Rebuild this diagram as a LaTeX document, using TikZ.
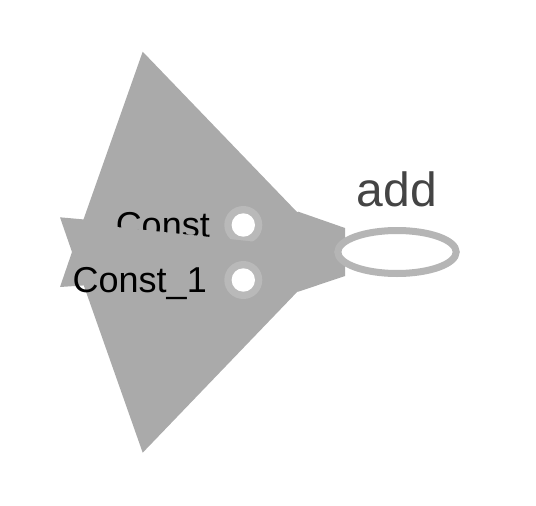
\documentclass[tikz,border=0pt]{standalone}
\usepackage{fontspec}
\setmainfont{Liberation Sans}
\usetikzlibrary{shapes.geometric}
\definecolor{edgegray}{HTML}{AAAAAA}
\definecolor{ringgray}{HTML}{B9B9B9}
\definecolor{opgray}{HTML}{B5B5B5}
\definecolor{labeldark}{HTML}{444444}
\begin{document}
\begin{tikzpicture}[x=1pt,y=-1pt,
  edgeshape/.style={fill=edgegray,draw=none},
  portlabel/.style={anchor=base east,inner sep=0pt,font=\fontsize{36}{40}\selectfont,text=black},
  portring/.style={circle,fill=ringgray,minimum size=38pt,inner sep=0pt},
  porthole/.style={circle,fill=white,minimum size=23.4pt,inner sep=0pt},
  opnode/.style={ellipse,draw=opgray,line width=7pt,fill=white,minimum width=118.4pt,minimum height=43pt,inner sep=0pt},
  oplabel/.style={anchor=base,inner sep=0pt,font=\fontsize{48}{52}\selectfont,text=labeldark}]
\useasboundingbox (0,0) rectangle (536,506);
% large edge shapes (union)
\fill[edgeshape] (142.7,51.7) -- (335.5,252) -- (142.7,452.7) -- (72,252) -- cycle;
\fill[edgeshape] (60,217.3) -- (90,220) -- (90,285) -- (60,287) -- (72,252) -- cycle;
\fill[edgeshape] (290,215) -- (298.3,211.7) -- (345,228) -- (345,276) -- (298.3,291.7) -- (290,289) -- cycle;
% first input
\node[portring] (c0ring) at (243.3,225) {};
\node[porthole] (c0) at (243.3,225) {};
\node[portlabel] (c0lab) at (210,237.5) {Const};
% overlap of second edge over the first label
\fill[edgeshape] (86,221) -- (112,226.5) -- (257,242) -- (300,246.5) -- (300,262) -- (86,262) -- cycle;
% second input
\node[portring] (c1ring) at (243.3,280) {};
\node[porthole] (c1) at (243.3,280) {};
\node[portlabel] (c1lab) at (207,292) {Const\_1};
% op node
\node[opnode] (add) at (397,252) {};
\node[oplabel] (addlab) at (397,206) {add};
\end{tikzpicture}
\end{document}
